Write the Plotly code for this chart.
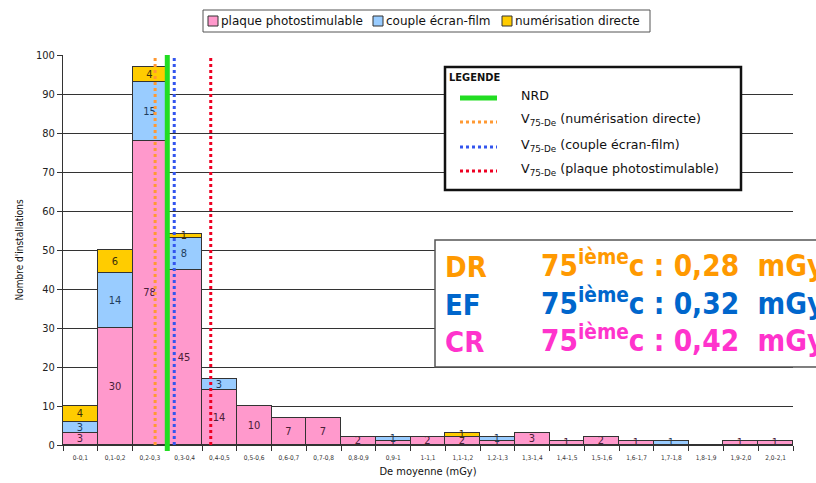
import plotly.graph_objects as go

# ---------------- data ----------------
categories = ["0-0,1", "0,1-0,2", "0,2-0,3", "0,3-0,4", "0,4-0,5", "0,5-0,6", "0,6-0,7",
              "0,7-0,8", "0,8-0,9", "0,9-1", "1-1,1", "1,1-1,2", "1,2-1,3", "1,3-1,4",
              "1,4-1,5", "1,5-1,6", "1,6-1,7", "1,7-1,8", "1,8-1,9", "1,9-2,0", "2,0-2,1"]
plaque = [3, 30, 78, 45, 14, 10, 7, 7, 2, 1, 2, 2, 1, 3, 1, 2, 1, 0, 0, 1, 1]
couple = [3, 14, 15, 8, 3, 0, 0, 0, 0, 1, 0, 0, 1, 0, 0, 0, 0, 1, 0, 0, 0]
numerisation = [4, 6, 4, 1, 0, 0, 0, 0, 0, 0, 0, 1, 0, 0, 0, 0, 0, 0, 0, 0, 0]
bin_width = 0.1
nrd_value = 0.30
v75_dr = 0.265
v75_ef = 0.32
v75_cr = 0.425
series_names = ["plaque photostimulable", "couple écran-film", "numérisation directe"]
summary_labels = ["DR", "EF", "CR"]
summary_values = ["0,28", "0,32", "0,42"]

# ---------------- layout helpers ----------------
W, H = 816, 483
L, R, T, B = 63, 793, 55, 445
PW, PH = R - L, B - T


def px(x):
    return (x - L) / PW


def py(y):
    return (B - y) / PH


FONT = "DejaVu Sans Condensed, DejaVu Sans, sans-serif"
FONT_W = "DejaVu Sans, sans-serif"
PINK, BLUE, YELLOW = "#FF99CC", "#99CCFF", "#FFCC00"
C_DR, C_EF, C_CR = "#FF9900", "#0066CC", "#FF33CC"
GREEN = "#22DD22"
ORANGE_DOT, BLUE_DOT, RED_DOT = "#FF9933", "#3355EE", "#EE0022"
colors = [PINK, BLUE, YELLOW]

centers = [bin_width / 2 + bin_width * i for i in range(len(categories))]


def labels(vals):
    return [str(v) if v > 0 else "" for v in vals]


fig = go.Figure()
for name, vals, col, tcol in [(series_names[0], plaque, PINK, "#4a2038"),
                              (series_names[1], couple, BLUE, "#1f3d5c"),
                              (series_names[2], numerisation, YELLOW, "#3a2e0a")]:
    fig.add_trace(go.Bar(
        x=centers, y=vals, width=bin_width, name=name, showlegend=False,
        marker=dict(color=col, line=dict(color="#333333", width=1)),
        text=labels(vals), textposition="inside", insidetextanchor="middle",
        textfont=dict(size=11, color=tcol, family=FONT), textangle=0,
        hoverinfo="skip"))

shapes = []
annotations = []

# top series legend (box + swatches + labels)
shapes.append(dict(type="rect", xref="paper", yref="paper", x0=px(203), x1=px(650),
                   y0=py(32), y1=py(10), fillcolor="white",
                   line=dict(color="#555555", width=1), layer="above"))
for name, col, sx in zip(series_names, colors, [208, 373, 502]):
    shapes.append(dict(type="rect", xref="paper", yref="paper", x0=px(sx), x1=px(sx + 10),
                       y0=py(26), y1=py(16), fillcolor=col,
                       line=dict(color="#333333", width=1), layer="above"))
    annotations.append(dict(xref="paper", yref="paper", x=px(sx + 11), y=py(21),
                            xanchor="left", yanchor="middle", text=name, showarrow=False,
                            font=dict(size=12, color="#111111", family=FONT_W)))

# vertical reference lines
shapes.append(dict(type="line", xref="x", yref="paper", x0=nrd_value, x1=nrd_value,
                   y0=py(451), y1=1, line=dict(color=GREEN, width=5), layer="above"))
for val, col in [(v75_dr, ORANGE_DOT), (v75_ef, BLUE_DOT), (v75_cr, RED_DOT)]:
    shapes.append(dict(type="line", xref="x", yref="paper", x0=val, x1=val, y0=0, y1=1,
                       line=dict(color=col, width=3, dash="3px,3px"), layer="above"))

# LEGENDE box
shapes.append(dict(type="rect", xref="paper", yref="paper", x0=px(445), x1=px(741),
                   y0=py(190), y1=py(67), fillcolor="white",
                   line=dict(color="#111111", width=2.5), layer="above"))
leg_rows = [(98, GREEN, "solid", 5, "NRD"),
            (122, ORANGE_DOT, "3px,3px", 3, "V<sub>75-De</sub> (numérisation directe)"),
            (147, BLUE_DOT, "3px,3px", 3, "V<sub>75-De</sub> (couple écran-film)"),
            (171, RED_DOT, "3px,3px", 3, "V<sub>75-De</sub> (plaque photostimulable)")]
annotations.append(dict(xref="paper", yref="paper", x=px(447), y=py(77), xanchor="left",
                        yanchor="middle", text="<b>LEGENDE</b>", showarrow=False,
                        font=dict(size=11, color="#111111", family=FONT)))
for yy, col, dash, wdt, txt in leg_rows:
    shapes.append(dict(type="line", xref="paper", yref="paper", x0=px(460), x1=px(497),
                       y0=py(yy), y1=py(yy), line=dict(color=col, width=wdt, dash=dash),
                       layer="above"))
    annotations.append(dict(xref="paper", yref="paper", x=px(519), y=py(yy - 2),
                            xanchor="left", yanchor="middle", text=txt, showarrow=False,
                            font=dict(size=12.6, color="#111111", family=FONT_W)))

# summary box
shapes.append(dict(type="rect", xref="paper", yref="paper", x0=px(435), x1=px(840),
                   y0=py(367), y1=py(240), fillcolor="white",
                   line=dict(color="#555555", width=1.5), layer="above"))
for lab, val, col, yy in zip(summary_labels, summary_values, [C_DR, C_EF, C_CR], [267, 305, 342]):
    annotations.append(dict(xref="paper", yref="paper", x=px(443), y=py(yy), xanchor="left",
                            yanchor="middle", text="<b>%s</b>" % lab, showarrow=False,
                            font=dict(size=29, color=col, family=FONT)))
    annotations.append(dict(xref="paper", yref="paper", x=px(539), y=py(yy - 3), xanchor="left",
                            yanchor="middle",
                            text="<b>75<sup>ième</sup>c : %s&nbsp; mGy</b>" % val,
                            showarrow=False,
                            font=dict(size=29.5, color=col, family=FONT)))

fig.update_layout(
    width=W, height=H, margin=dict(l=L, r=W - R, t=T, b=H - B, autoexpand=False),
    paper_bgcolor="white", plot_bgcolor="white",
    barmode="stack", bargap=0,
    font=dict(family=FONT, color="#222222"),
    uniformtext=dict(minsize=11, mode="show"),
    showlegend=False,
    shapes=shapes, annotations=annotations,
    xaxis=dict(range=[0, bin_width * len(categories)], tickmode="array", tickvals=centers,
               ticktext=categories, tickfont=dict(size=6.5, color="#333333"),
               ticks="outside", ticklen=6, tickcolor="rgba(0,0,0,0)",
               minor=dict(ticks="outside", tick0=0, dtick=bin_width, ticklen=5,
                          tickcolor="#333333", showgrid=False),
               showline=True, linecolor="#333333", linewidth=1, showgrid=False,
               zeroline=False, fixedrange=True, automargin=False,
               title=dict(text="De moyenne (mGy)", font=dict(size=11, color="#111111"),
                          standoff=6)),
    yaxis=dict(range=[0, 100], dtick=10, tickfont=dict(size=11, color="#222222"),
               ticks="outside", ticklen=5, tickcolor="#333333",
               showline=True, linecolor="#333333", linewidth=1, automargin=False,
               showgrid=True, gridcolor="#333333", gridwidth=1, zeroline=False,
               fixedrange=True,
               title=dict(text="Nombre d'installations", font=dict(size=10, color="#111111"),
                          standoff=10)),
)

fig.write_html("out.html", config={"displayModeBar": False},
               post_script="document.body.style.margin='0';document.body.style.overflow='hidden';")
